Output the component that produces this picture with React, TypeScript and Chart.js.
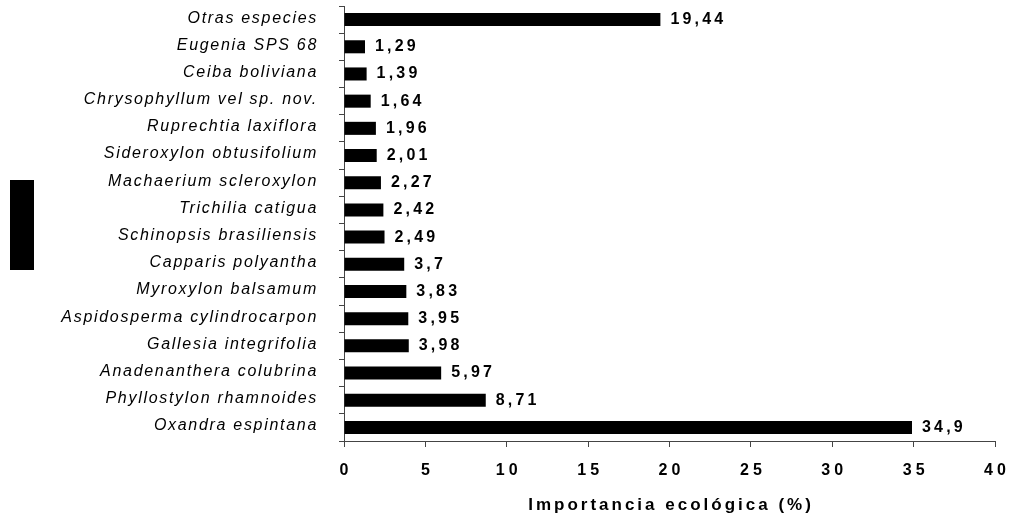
import React, { useEffect, useRef } from "react";
import { Chart, registerables } from "chart.js";

Chart.register(...registerables);

const SPECIES: string[] = [
  "Otras especies",
  "Eugenia SPS 68",
  "Ceiba boliviana",
  "Chrysophyllum vel sp. nov.",
  "Ruprechtia laxiflora",
  "Sideroxylon obtusifolium",
  "Machaerium scleroxylon",
  "Trichilia catigua",
  "Schinopsis brasiliensis",
  "Capparis polyantha",
  "Myroxylon balsamum",
  "Aspidosperma cylindrocarpon",
  "Gallesia integrifolia",
  "Anadenanthera colubrina",
  "Phyllostylon rhamnoides",
  "Oxandra espintana",
];

const VALUES: number[] = [
  19.44, 1.29, 1.39, 1.64, 1.96, 2.01, 2.27, 2.42, 2.49, 3.7, 3.83, 3.95, 3.98, 5.97, 8.71, 34.9,
];

const X_TICKS: number[] = [0, 5, 10, 15, 20, 25, 30, 35, 40];
const X_TITLE = "Importancia ecológica (%)";

const FONT = "'Liberation Sans', Arial, sans-serif";

function fmt(v: number): string {
  return String(v).replace(".", ",");
}

const textPlugin = {
  id: "customText",
  afterDraw(chart: any) {
    const ctx = chart.ctx as CanvasRenderingContext2D;
    const xs = chart.scales.x;
    const ys = chart.scales.y;
    const area = chart.chartArea;
    ctx.save();
    ctx.fillStyle = "#000";

    // y labels
    ctx.font = `italic 16px ${FONT}`;
    (ctx as any).letterSpacing = "1.7px";
    ctx.textAlign = "right";
    ctx.textBaseline = "middle";
    SPECIES.forEach((s, i) => {
      const y = ys.getPixelForValue(i);
      ctx.fillText(s, 318, y - 1.5);
    });

    // x tick labels
    ctx.font = `bold 16px ${FONT}`;
    (ctx as any).letterSpacing = "4px";
    ctx.textAlign = "center";
    X_TICKS.forEach((t) => {
      const x = xs.getPixelForValue(t);
      ctx.fillText(String(t), x + 2, 471);
    });

    // x title
    ctx.font = `bold 17px ${FONT}`;
    (ctx as any).letterSpacing = "3px";
    ctx.fillText(X_TITLE, (area.left + area.right) / 2 + 1.5, 505);

    // data labels
    ctx.font = `bold 16px ${FONT}`;
    (ctx as any).letterSpacing = "3.2px";
    ctx.textAlign = "left";
    const meta = chart.getDatasetMeta(0);
    meta.data.forEach((bar: any, i: number) => {
      ctx.fillText(fmt(VALUES[i]), bar.x + 10, bar.y);
    });

    // redacted axis-title block
    (ctx as any).letterSpacing = "0px";
    ctx.fillRect(10, 180, 24, 90);
    ctx.restore();
  },
};

export default function App() {
  const ref = useRef<HTMLCanvasElement | null>(null);
  useEffect(() => {
    document.body.style.margin = "0";
    const canvas = ref.current;
    if (!canvas) return;
    const chart = new Chart(canvas, {
      type: "bar",
      data: {
        labels: SPECIES,
        datasets: [
          {
            data: VALUES,
            backgroundColor: "#000",
            borderWidth: 0,
            barPercentage: 0.48,
            categoryPercentage: 1,
          },
        ],
      },
      options: {
        indexAxis: "y",
        animation: false,
        responsive: false,
        maintainAspectRatio: false,
        layout: { padding: { top: 6, right: 17, left: 0, bottom: 0 } },
        plugins: {
          legend: { display: false },
          tooltip: { enabled: false },
        },
        scales: {
          x: {
            min: 0,
            max: 40,
            ticks: { display: false, stepSize: 5 },
            grid: {
              display: true,
              drawOnChartArea: false,
              drawTicks: true,
              tickLength: 6,
              color: "#444",
            },
            border: { display: true, color: "#444", width: 1 },
            afterFit: (scale: any) => {
              scale.height = 79;
            },
          },
          y: {
            ticks: { display: false },
            grid: {
              display: true,
              offset: true,
              drawOnChartArea: false,
              drawTicks: true,
              tickLength: 5,
              color: "#444",
            },
            border: { display: true, color: "#444", width: 1 },
            afterFit: (scale: any) => {
              scale.width = 344;
            },
          },
        },
      },
      plugins: [textPlugin],
    });
    return () => chart.destroy();
  }, []);
  return (
    <div style={{ width: 1012, height: 520, background: "#fff" }}>
      <canvas ref={ref} width={1012} height={520} style={{ display: "block" }} />
    </div>
  );
}
